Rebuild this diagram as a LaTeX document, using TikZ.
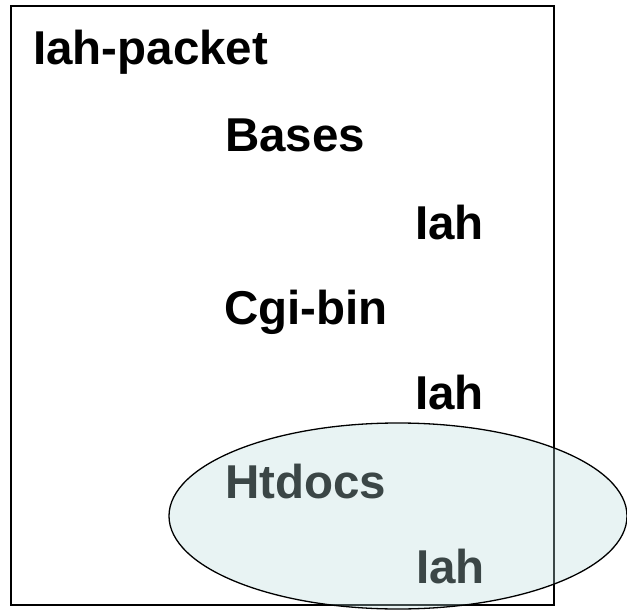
\documentclass[tikz,border=0pt]{standalone}
\usepackage{fontspec}
\setmainfont{Liberation Sans}
\definecolor{hellcyan}{RGB}{185,219,219}
\begin{document}
\begin{tikzpicture}[x=1pt,y=-1pt,
		eintrag/.style={anchor=base west, inner sep=0pt, font=\bfseries\fontsize{47.5}{57}\selectfont}]
		\useasboundingbox (0,0) rectangle (627,610);
		
		% zeichne Rahmen
		\draw[line width=2pt] (11,6) rectangle (554,605);
		
		% zeichne Verzeichnisse
		\node[eintrag] (paket) at (33,65) {Iah-packet};
		\node[eintrag] (bases) at (225,151) {Bases};
		\node[eintrag] (iaha) at (415,239) {Iah};
		\node[eintrag] (cgibin) at (224,324) {Cgi-bin};
		\node[eintrag] (iahb) at (415,409) {Iah};
		\node[eintrag] (htdocs) at (225,498) {Htdocs};
		\node[eintrag] (iahc) at (416,583) {Iah};
		
		% zeichne Markierung
		\draw[line width=1.3pt, fill=hellcyan, fill opacity=0.32] (398,516) ellipse [x radius=229pt, y radius=93pt];
	\end{tikzpicture}
\end{document}
